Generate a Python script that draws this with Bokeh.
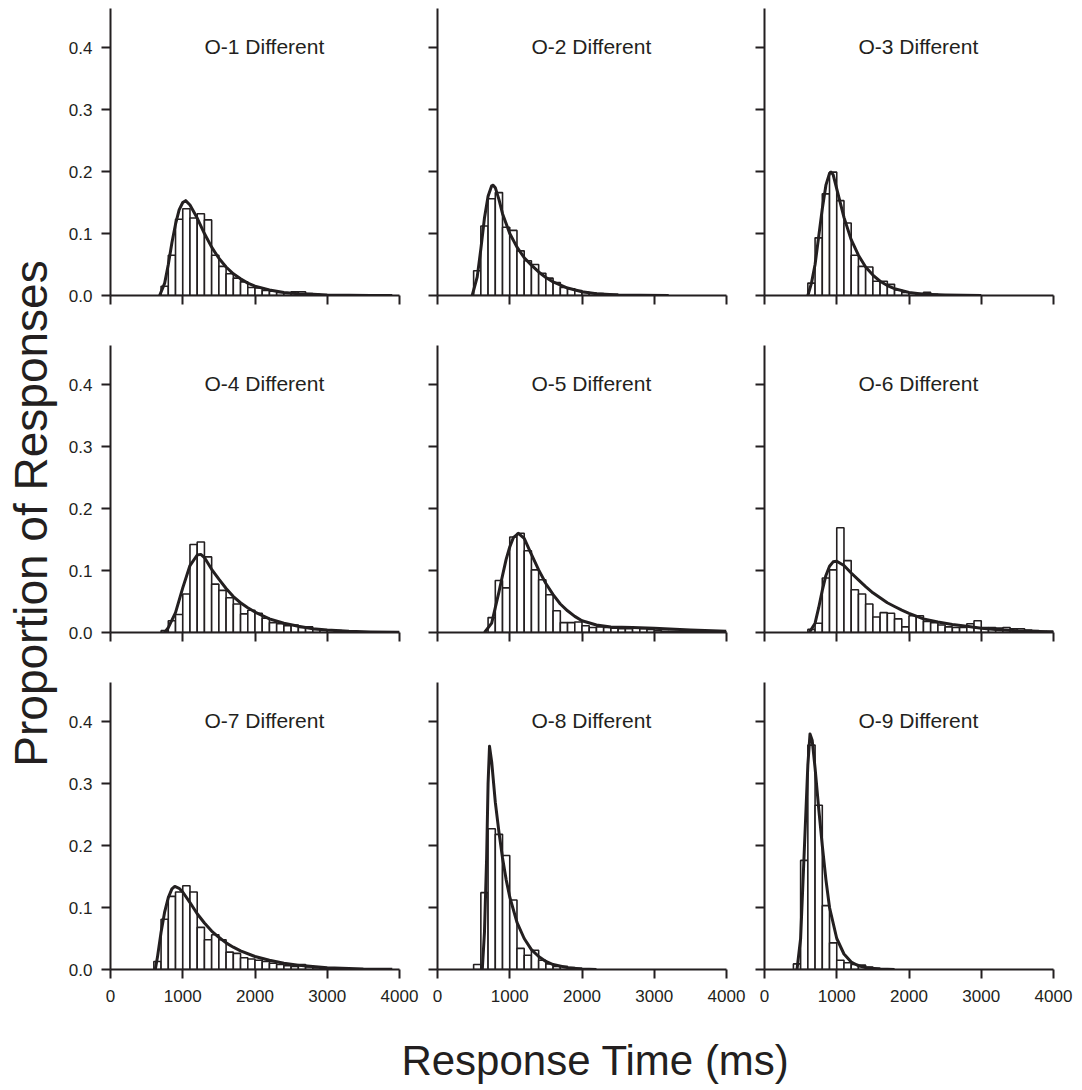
from bokeh.plotting import figure
from bokeh.layouts import row, column
from bokeh.models import FixedTicker, CustomJSTickFormatter, Label, NumeralTickFormatter
from bokeh.core.properties import value
from bokeh.embed import file_html
from bokeh.resources import INLINE

FONT = "Liberation Sans"
INK = "#231f20"
BIN_WIDTH = 100

titles = ["O-1 Different", "O-2 Different", "O-3 Different",
          "O-4 Different", "O-5 Different", "O-6 Different",
          "O-7 Different", "O-8 Different", "O-9 Different"]

x_ticks = [0, 1000, 2000, 3000, 4000]
y_ticks = [0.0, 0.1, 0.2, 0.3, 0.4]

# ---- histogram data: first bin start (ms) and proportions per 100-ms bin ----
start_o1 = 700
props_o1 = [0.015, 0.065, 0.123, 0.140, 0.125, 0.132, 0.122, 0.065, 0.047, 0.035, 0.028,
            0.022, 0.013, 0.012, 0.008, 0.007, 0.005, 0.004, 0.006, 0.006, 0.003, 0.002,
            0.001, 0.001, 0.001]
start_o2 = 500
props_o2 = [0.040, 0.112, 0.156, 0.166, 0.110, 0.105, 0.072, 0.056, 0.050, 0.036, 0.028,
            0.021, 0.013, 0.011, 0.008, 0.005, 0.004, 0.003, 0.002, 0.002, 0.001]
start_o3 = 600
props_o3 = [0.020, 0.093, 0.164, 0.199, 0.153, 0.117, 0.065, 0.047, 0.046, 0.023, 0.023,
            0.018, 0.009, 0.005, 0.004, 0.003, 0.005, 0.002, 0.001]
start_o4 = 700
props_o4 = [0.003, 0.019, 0.029, 0.062, 0.142, 0.146, 0.122, 0.078, 0.068, 0.056, 0.046,
            0.030, 0.036, 0.031, 0.023, 0.016, 0.014, 0.011, 0.012, 0.008, 0.009, 0.005,
            0.004, 0.004, 0.003, 0.002, 0.002, 0.001]
start_o5 = 700
props_o5 = [0.024, 0.084, 0.072, 0.154, 0.160, 0.132, 0.101, 0.085, 0.061, 0.035, 0.016,
            0.016, 0.017, 0.011, 0.008, 0.009, 0.008, 0.007, 0.006, 0.006, 0.007, 0.006,
            0.005, 0.003, 0.002, 0.002, 0.002, 0.002, 0.002, 0.001, 0.001, 0.001, 0.001]
start_o6 = 600
props_o6 = [0.005, 0.015, 0.088, 0.101, 0.169, 0.116, 0.069, 0.062, 0.046, 0.025, 0.032,
            0.031, 0.022, 0.009, 0.027, 0.027, 0.018, 0.016, 0.012, 0.009, 0.008, 0.008,
            0.014, 0.019, 0.008, 0.008, 0.007, 0.008, 0.006, 0.006, 0.004, 0.003, 0.002, 0.002]
start_o7 = 600
props_o7 = [0.013, 0.081, 0.118, 0.125, 0.135, 0.125, 0.068, 0.048, 0.056, 0.048, 0.028,
            0.026, 0.019, 0.017, 0.015, 0.013, 0.010, 0.008, 0.006, 0.005, 0.008, 0.004,
            0.003, 0.002, 0.002, 0.001, 0.001, 0.001]
start_o8 = 500
props_o8 = [0.008, 0.124, 0.227, 0.218, 0.184, 0.112, 0.034, 0.023, 0.031, 0.015, 0.009,
            0.005, 0.005, 0.003, 0.002, 0.001]
start_o9 = 400
props_o9 = [0.009, 0.176, 0.362, 0.265, 0.103, 0.043, 0.015, 0.011, 0.008, 0.007, 0.004,
            0.002, 0.001]

# ---- fitted curves ----
fit_t_o1 = [680, 750, 800, 850, 900, 950, 1000, 1040, 1100, 1200, 1300, 1400, 1500, 1600,
            1700, 1800, 1900, 2000, 2200, 2400, 2600, 2800, 3000, 3300, 3600, 3900]
fit_p_o1 = [0.0, 0.02, 0.05, 0.085, 0.115, 0.138, 0.150, 0.153, 0.146, 0.125, 0.100, 0.078,
            0.060, 0.046, 0.035, 0.027, 0.020, 0.015, 0.009, 0.005, 0.003, 0.002, 0.001,
            0.0005, 0.0002, 0.0]
fit_t_o2 = [480, 550, 600, 650, 700, 750, 770, 800, 850, 900, 1000, 1100, 1200, 1300, 1400,
            1500, 1600, 1800, 2000, 2200, 2500, 2800, 3200]
fit_p_o2 = [0.0, 0.03, 0.075, 0.125, 0.160, 0.177, 0.178, 0.174, 0.155, 0.132, 0.100, 0.078,
            0.061, 0.049, 0.038, 0.029, 0.022, 0.012, 0.006, 0.003, 0.001, 0.0005, 0.0]
fit_t_o3 = [600, 650, 700, 750, 800, 850, 900, 920, 950, 1000, 1100, 1200, 1300, 1400, 1500,
            1600, 1700, 1800, 2000, 2200, 2500, 3000]
fit_p_o3 = [0.0, 0.02, 0.05, 0.095, 0.140, 0.178, 0.197, 0.199, 0.195, 0.172, 0.126, 0.090,
            0.065, 0.046, 0.033, 0.023, 0.016, 0.011, 0.005, 0.002, 0.001, 0.0]
fit_t_o4 = [750, 800, 900, 1000, 1100, 1200, 1250, 1300, 1400, 1500, 1600, 1700, 1800, 1900,
            2000, 2200, 2400, 2600, 2800, 3000, 3300, 3600, 4000]
fit_p_o4 = [0.0, 0.008, 0.032, 0.072, 0.108, 0.125, 0.126, 0.121, 0.102, 0.086, 0.071, 0.058,
            0.048, 0.040, 0.033, 0.022, 0.015, 0.010, 0.006, 0.004, 0.002, 0.001, 0.0005]
fit_t_o5 = [650, 750, 800, 850, 900, 950, 1000, 1050, 1120, 1200, 1300, 1400, 1500, 1600,
            1700, 1800, 1900, 2000, 2200, 2400, 2700, 3000, 3500, 4000]
fit_p_o5 = [0.0, 0.015, 0.040, 0.065, 0.092, 0.118, 0.138, 0.153, 0.160, 0.152, 0.126, 0.101,
            0.079, 0.061, 0.046, 0.035, 0.026, 0.019, 0.012, 0.009, 0.008, 0.007, 0.004, 0.002]
fit_t_o6 = [620, 700, 750, 800, 850, 900, 950, 1000, 1100, 1200, 1300, 1400, 1500, 1600,
            1700, 1800, 1900, 2000, 2200, 2400, 2600, 2800, 3000, 3200, 3500, 4000]
fit_p_o6 = [0.0, 0.015, 0.040, 0.068, 0.092, 0.107, 0.114, 0.115, 0.108, 0.096, 0.085, 0.074,
            0.064, 0.056, 0.048, 0.042, 0.036, 0.031, 0.022, 0.017, 0.013, 0.010, 0.007, 0.005,
            0.003, 0.001]
fit_t_o7 = [620, 650, 700, 750, 800, 850, 890, 950, 1000, 1100, 1200, 1300, 1400, 1500, 1600,
            1700, 1800, 2000, 2200, 2400, 2600, 2800, 3000, 3500, 3900]
fit_p_o7 = [0.0, 0.02, 0.06, 0.093, 0.116, 0.130, 0.134, 0.131, 0.125, 0.108, 0.090, 0.075,
            0.062, 0.052, 0.043, 0.036, 0.030, 0.021, 0.015, 0.010, 0.007, 0.005, 0.003, 0.001,
            0.0005]
fit_t_o8 = [620, 650, 680, 700, 720, 750, 800, 850, 900, 950, 1000, 1100, 1200, 1300, 1400,
            1500, 1600, 1800, 2000, 2200]
fit_p_o8 = [0.0, 0.06, 0.18, 0.30, 0.360, 0.335, 0.270, 0.222, 0.180, 0.145, 0.117, 0.076,
            0.050, 0.032, 0.021, 0.013, 0.008, 0.003, 0.001, 0.0]
fit_t_o9 = [450, 500, 550, 600, 630, 660, 700, 750, 800, 850, 900, 1000, 1100, 1200, 1300,
            1400, 1600, 1800]
fit_p_o9 = [0.0, 0.05, 0.19, 0.33, 0.380, 0.370, 0.325, 0.260, 0.200, 0.145, 0.100, 0.050,
            0.025, 0.012, 0.006, 0.003, 0.001, 0.0]

panels = [
    (start_o1, props_o1, fit_t_o1, fit_p_o1),
    (start_o2, props_o2, fit_t_o2, fit_p_o2),
    (start_o3, props_o3, fit_t_o3, fit_p_o3),
    (start_o4, props_o4, fit_t_o4, fit_p_o4),
    (start_o5, props_o5, fit_t_o5, fit_p_o5),
    (start_o6, props_o6, fit_t_o6, fit_p_o6),
    (start_o7, props_o7, fit_t_o7, fit_p_o7),
    (start_o8, props_o8, fit_t_o8, fit_p_o8),
    (start_o9, props_o9, fit_t_o9, fit_p_o9),
]

FRAME_W = 289
FRAME_H = 287
BLANK = "return ''"


def make_panel(i):
    r, c = divmod(i, 3)
    left = 46 if c == 0 else 18
    right = 20
    top = 8 if r == 0 else 0
    bottom = 50
    p = figure(width=left + FRAME_W + right, height=top + FRAME_H + bottom,
               frame_width=FRAME_W, frame_height=FRAME_H,
               x_range=(0, 4000), y_range=(0, 0.463),
               output_backend="svg", toolbar_location=None,
               min_border_left=left, min_border_right=right,
               min_border_top=top, min_border_bottom=bottom)
    p.outline_line_color = None
    p.xgrid.visible = False
    p.ygrid.visible = False
    p.background_fill_color = "white"
    p.border_fill_color = "white"

    for ax in (p.xaxis[0], p.yaxis[0]):
        ax.axis_line_color = INK
        ax.axis_line_width = 2
        ax.major_tick_line_color = INK
        ax.major_tick_line_width = 2
        ax.major_tick_out = 9
        ax.major_tick_in = 0
        ax.minor_tick_out = 0
        ax.minor_tick_in = 0
        ax.major_label_text_font = FONT
        ax.major_label_text_font_size = "17px"
        ax.major_label_text_color = INK

    p.xaxis.ticker = FixedTicker(ticks=x_ticks)
    p.yaxis.ticker = FixedTicker(ticks=y_ticks)
    if r == 2:
        p.xaxis.major_label_standoff = 11
    else:
        p.xaxis.formatter = CustomJSTickFormatter(code=BLANK)
        p.xaxis.major_label_standoff = 0
    if c == 0:
        p.yaxis.formatter = NumeralTickFormatter(format="0.0")
        p.yaxis.major_label_standoff = 9
    else:
        p.yaxis.formatter = CustomJSTickFormatter(code=BLANK)
        p.yaxis.major_label_standoff = 0

    start, props, ft, fp = panels[i]
    lefts = [start + BIN_WIDTH * k for k in range(len(props))]
    rights = [x + BIN_WIDTH for x in lefts]
    p.quad(left=lefts, right=rights, bottom=0, top=props,
           fill_color="white", line_color=INK, line_width=1.6)
    p.line(ft, fp, line_color=INK, line_width=3, line_join="round")

    p.text(x=[2130], y=[0.402], text=[titles[i]],
           text_font=value(FONT), text_font_size="21px",
           text_align="center", text_baseline="alphabetic", text_color=INK)
    return p


figs = [make_panel(i) for i in range(9)]

TOTAL_H = 1089
ystrip = figure(width=64, height=TOTAL_H, x_axis_location=None, y_axis_location=None,
                toolbar_location=None, output_backend="svg", min_border=0)
ystrip.outline_line_color = None
ystrip.grid.visible = False
ystrip.add_layout(Label(x=30, y=576, x_units="screen", y_units="screen",
                        text="Proportion of Responses", angle=90, angle_units="deg",
                        text_align="center", text_baseline="middle",
                        text_font=FONT, text_font_size="46px", text_color=INK))

xstrip = figure(width=1009, height=70, x_axis_location=None, y_axis_location=None,
                toolbar_location=None, output_backend="svg", min_border=0)
xstrip.outline_line_color = None
xstrip.grid.visible = False
xstrip.add_layout(Label(x=531, y=29, x_units="screen", y_units="screen",
                        text="Response Time (ms)", text_align="center",
                        text_baseline="middle",
                        text_font=FONT, text_font_size="42px", text_color=INK))

grid = column(row(figs[0], figs[1], figs[2]),
              row(figs[3], figs[4], figs[5]),
              row(figs[6], figs[7], figs[8]),
              xstrip)
layout = row(ystrip, grid)

open("out.html", "w").write(file_html(layout, INLINE))
